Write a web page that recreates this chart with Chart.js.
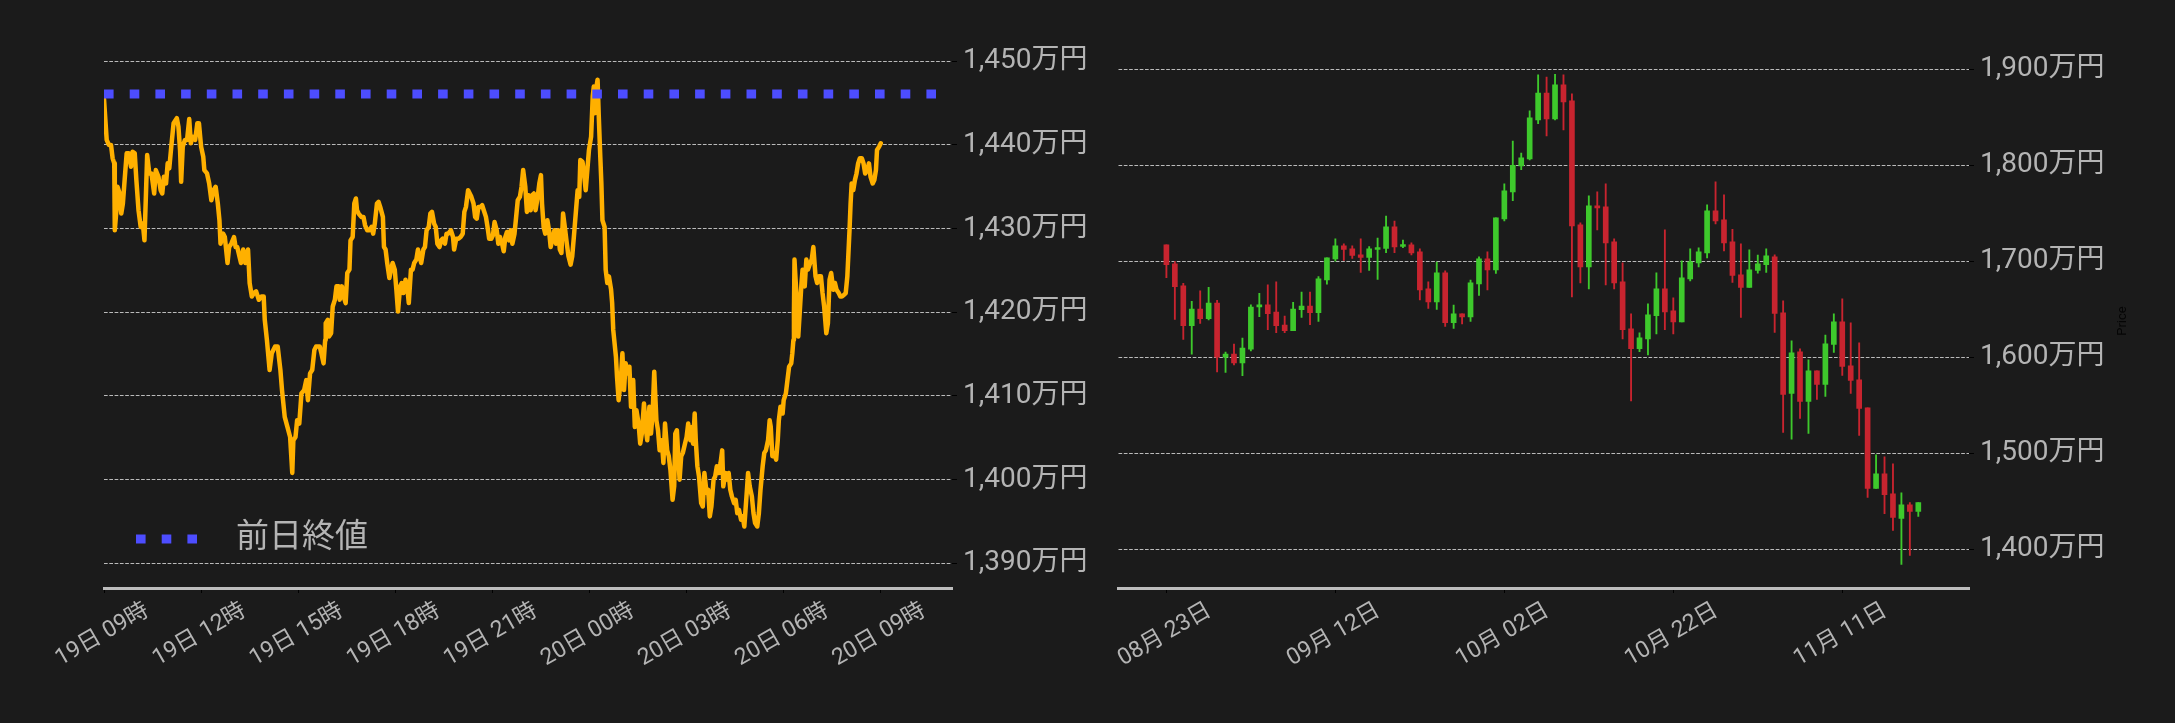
<!DOCTYPE html>
<html>
<head>
<meta charset="utf-8">
<script src="https://cdn.jsdelivr.net/npm/chart.js@4.4.1/dist/chart.umd.min.js"></script>
<style>
  html, body { margin: 0; padding: 0; background: #1b1b1b; }
  #wrap { position: relative; width: 2175px; height: 723px; background: #1b1b1b; overflow: hidden; }
  .box { position: absolute; top: 0; height: 723px; }
  #boxL { left: 0; width: 1100px; }
  #boxR { left: 1100px; width: 1075px; }
</style>
</head>
<body>
<div id="wrap">
  <div class="box" id="boxL"><canvas id="cLine" width="1100" height="723"></canvas></div>
  <div class="box" id="boxR"><canvas id="cCandle" width="1075" height="723"></canvas></div>
</div>
<script>
// --- Datos: precio intradía (minutos desde 19日 09時, 万円) ---
const lineMinutes = [
  0,5,9,13,16,19,20,23,25,29,32,35,38,42,46,50,53,57,60,64,68,72,75,78,80,84,88,93,96,101,
  105,108,111,115,118,121,125,129,135,138,141,143,146,150,154,158,161,164,169,173,176,180,184,186,191,195,199,203,207,211,
  214,216,221,224,229,232,236,241,244,247,251,254,258,262,267,270,274,278,282,287,292,296,298,302,307,311,317,322,327,330,
  335,340,345,349,351,355,358,362,366,371,375,378,382,386,390,393,400,403,407,410,411,415,417,421,424,428,431,435,437,441,
  444,448,451,455,457,461,464,467,469,472,477,481,484,488,492,496,499,502,506,509,512,517,519,522,525,529,532,535,539,542,
  545,549,552,555,559,562,565,569,572,575,579,582,585,588,592,595,598,602,605,608,612,615,618,622,625,628,632,635,638,643,
  647,649,653,657,661,665,668,671,675,678,681,685,688,691,694,698,701,704,708,711,714,718,721,724,728,731,734,738,741,744,
  747,751,754,757,761,764,767,771,774,777,781,784,787,791,794,797,800,804,807,810,
  812,815,818,822,825,828,832,835,838,842,845,848,851,855,858,861,865,868,871,875,878,881,883,887,889,893,896,899,903,906,
  908,910,913,915,917,920,922,924,928,930,933,936,940,942,944,
  949,951,954,958,961,964,967,971,974,977,981,984,987,991,994,997,1001,1004,1007,1011,1014,1017,1020,1024,1027,1030,1034,1037,1040,1044,
  1047,1050,1054,1057,1059,1062,1064,1067,1070,1073,1077,1080,1083,1087,1090,1092,1095,1097,1100,1103,1107,1110,1113,1117,1120,1123,
  1126,1130,1133,1136,1140,1143,1146,1148,1152,1154,1158,1161,1164,1168,1171,1174,1177,1181,1184,1187,1191,1194,1197,1201,1204,1207,1211,1214,1217,1221,
  1224,1227,1231,1234,1236,1239,1242,1246,1249,1251,1254,1258,1260,1264,1267,1270,1274,1276,1278,
  1279,1280,1282,1284,1287,1290,1293,1295,1299,1302,1305,1309,1312,1315,1319,1322,1325,1329,1332,1335,1339,1342,1345,1348,1352,1355,1358,1362,1365,1368,
  1372,1375,1378,1382,1384,1386,1389,1392,1395,1398,1401,1405,1408,1411,1415,1418,1421,1425,1428,1431,1433,1437,1440
];
const linePrices = [
  1445.5,1440.6,1440.0,1440.0,1438.4,1437.8,1429.8,1432.2,1435.0,1434.2,1431.8,1433.0,1435.6,1439.0,1439.0,1437.4,1439.2,1439.0,1435.8,1432.2,1430.2,1430.6,1428.6,1434.6,1438.8,1436.6,1436.6,1434.2,1437.0,1436.2,
  1434.6,1434.2,1436.2,1435.4,1437.8,1437.2,1440.0,1442.6,1443.2,1442.2,1439.4,1435.6,1439.8,1440.6,1440.6,1443.1,1440.2,1441.0,1440.6,1442.6,1442.6,1439.8,1438.6,1437.0,1436.6,1435.4,1433.4,1434.6,1435.0,1433.0,
  1431.0,1428.2,1429.4,1429.0,1425.9,1427.8,1428.2,1429.0,1427.8,1427.8,1426.7,1425.9,1427.5,1425.9,1427.5,1423.5,1421.9,1422.3,1422.5,1421.5,1421.9,1421.9,1419.1,1416.7,1413.1,1415.1,1415.9,1415.9,1413.1,1410.7,
  1407.5,1406.3,1405.1,1400.8,1404.7,1405.1,1407.1,1406.7,1410.3,1410.7,1411.9,1409.5,1412.7,1413.1,1415.5,1415.9,1415.9,1415.1,1413.9,1416.7,1418.7,1419.1,1417.1,1417.5,1420.7,1421.5,1423.1,1423.1,1421.5,1423.1,
  1421.9,1421.1,1424.7,1425.1,1428.6,1429.0,1433.0,1433.6,1432.2,1431.8,1431.4,1431.4,1430.4,1429.8,1429.8,1430.2,1429.4,1430.6,1433.0,1433.2,1432.6,1431.4,1427.8,1427.5,1425.9,1424.1,1425.1,1425.9,1425.1,1422.7,
  1420.1,1423.1,1423.5,1422.3,1423.9,1423.1,1421.1,1425.1,1425.1,1425.9,1426.3,1427.5,1426.7,1425.9,1427.5,1427.8,1429.8,1430.2,1431.8,1432.0,1430.6,1430.2,1428.2,1427.8,1428.6,1428.8,1428.2,1429.4,1429.4,1429.8,
  1429.0,1427.5,1428.8,1428.8,1429.0,1429.4,1432.0,1432.6,1434.6,1434.2,1433.8,1433.0,1431.4,1431.2,1432.6,1432.6,1432.8,1432.2,1431.4,1430.2,1428.8,1428.8,1429.2,1430.8,1429.8,1428.2,1429.0,1428.2,1427.3,1429.0,
  1429.6,1428.6,1429.8,1428.2,1429.4,1431.4,1433.4,1433.8,1435.0,1437.0,1435.0,1432.0,1434.0,1432.2,1434.0,1434.2,1432.2,1433.8,1435.4,1436.4,
  1433.0,1430.2,1429.4,1431.0,1429.8,1427.8,1429.0,1429.8,1428.2,1429.8,1427.5,1427.1,1431.8,1429.8,1428.2,1426.7,1425.7,1426.7,1429.0,1432.2,1434.6,1433.8,1438.2,1438.0,1437.0,1434.6,1437.0,1439.4,1441.0,1445.8,
  1447.0,1443.8,1447.0,1447.8,1443.8,1438.6,1435.4,1431.0,1430.2,1425.1,1423.5,1424.3,1422.7,1421.1,1417.9,
  1414.7,1412.3,1409.5,1411.9,1415.1,1410.7,1413.9,1412.7,1413.5,1408.7,1411.9,1406.3,1408.3,1406.7,1404.3,1405.5,1409.1,1406.3,1404.7,1408.7,1405.5,1407.9,1412.9,1407.1,1405.9,1403.5,1404.7,1402.0,1406.7,1403.5,
  1402.8,1401.2,1397.6,1399.2,1405.5,1405.9,1403.5,1400.0,1402.8,1403.2,1404.3,1405.1,1406.7,1404.7,1406.3,1404.3,1407.9,1404.7,1401.6,1400.4,1397.2,1396.8,1400.8,1398.4,1398.8,1395.6,
  1396.8,1400.0,1400.4,1401.6,1400.8,1402.0,1403.5,1399.2,1400.8,1400.0,1400.8,1398.8,1398.0,1397.2,1397.6,1396.0,1396.4,1395.2,1395.6,1394.4,1398.0,1400.8,1399.2,1398.0,1396.0,1394.8,1394.4,1396.0,1398.8,1401.6,
  1403.2,1403.5,1404.7,1407.1,1406.3,1402.8,1403.2,1402.4,1404.7,1407.1,1408.7,1407.9,1409.5,1410.3,1411.9,1413.5,1413.9,1415.1,1416.7,
  1419.9,1426.3,1423.9,1421.9,1417.1,1420.3,1423.5,1425.1,1423.1,1426.3,1425.1,1425.9,1426.3,1427.8,1424.3,1423.5,1424.3,1424.3,1422.3,1420.7,1417.5,1418.7,1423.9,1424.7,1422.7,1423.5,1422.7,1422.3,1421.9,1421.9,
  1422.1,1422.3,1424.3,1429.8,1433.0,1435.4,1434.6,1435.8,1436.6,1437.8,1438.4,1438.4,1437.8,1436.6,1437.0,1437.8,1436.2,1435.4,1435.8,1437.0,1439.4,1439.8,1440.2
];
const prevClose = 1446.1;
const prevCloseLabel = '前日終値';

const leftXTicks = [0, 180, 360, 540, 720, 900, 1080, 1260, 1440];
const leftXLabels = ['19日 09時', '19日 12時', '19日 15時', '19日 18時', '19日 21時', '20日 00時', '20日 03時', '20日 06時', '20日 09時'];
const leftYTicks = [1390, 1400, 1410, 1420, 1430, 1440, 1450];

// --- Datos: velas diarias (índice 0 = 08月23日) ---
const candleOpen = [
  1717.1,1697.2,1674.2,1632.8,1650.2,1640.1,1656.4,1600.0,1603.1,1594.1,1608.4,1652.3,1654.4,1647.0,1633.4,1627.5,1649.5,1653.3,1646.3,1680.5,
  1702.4,1716.0,1712.8,1706.6,1703.8,1712.2,1713.2,1735.8,1715.3,1717.0,1709.7,1671.2,1657.6,1687.8,1635.8,1645.1,1642.0,1676.4,1702.4,1691.0,
  1744.1,1772.2,1799.3,1806.6,1847.2,1875.3,1848.3,1883.7,1867.0,1737.8,1694.1,1757.6,1756.6,1720.1,1678.5,1629.5,1608.7,1619.1,1643.1,1671.2,
  1648.3,1636.8,1681.6,1698.3,1708.7,1752.4,1743.1,1720.1,1685.8,1672.6,1690.3,1696.5,1704.5,1646.2,1562.2,1605.6,1553.8,1585.8,1571.5,1613.2,
  1636.8,1591.0,1576.4,1547.2,1463.2,1478.5,1457.6,1431.9,1446.2,1439.2
];
const candleHigh = [
  1717.1,1699.7,1677.0,1658.2,1669.0,1672.8,1659.2,1605.2,1613.6,1619.9,1654.4,1666.6,1675.3,1678.4,1642.9,1657.1,1667.9,1667.9,1684.0,1703.5,
  1723.3,1718.1,1716.0,1723.3,1715.3,1724.0,1746.9,1741.7,1721.9,1719.1,1712.8,1678.5,1699.0,1689.9,1654.2,1645.1,1680.2,1704.5,1709.7,1745.1,
  1780.6,1825.3,1812.8,1856.6,1894.1,1892.0,1894.8,1894.1,1874.3,1739.9,1768.1,1772.2,1780.6,1723.3,1698.3,1645.1,1625.3,1655.6,1687.8,1732.6,
  1661.8,1700.3,1712.8,1713.9,1758.7,1782.6,1769.1,1733.3,1718.1,1711.8,1706.3,1712.8,1706.6,1658.7,1617.0,1608.7,1597.2,1585.8,1622.9,1645.1,
  1660.8,1635.8,1614.9,1547.2,1498.3,1496.2,1488.9,1458.7,1448.3,1448.3
];
const candleLow = [
  1682.9,1639.4,1618.5,1603.1,1635.2,1638.7,1584.7,1584.0,1592.0,1580.8,1606.6,1642.2,1628.6,1625.4,1625.4,1627.5,1641.5,1633.8,1637.3,1676.0,
  1700.0,1700.7,1702.8,1688.2,1690.3,1680.9,1709.0,1709.0,1714.2,1706.6,1659.7,1650.7,1649.7,1631.9,1629.9,1634.7,1637.2,1664.2,1670.1,1687.2,
  1742.0,1763.2,1795.5,1805.6,1843.4,1830.6,1847.2,1836.8,1662.8,1677.4,1671.2,1732.6,1675.3,1671.2,1619.1,1554.5,1605.6,1602.4,1624.3,1628.5,
  1624.3,1636.8,1679.5,1694.1,1703.5,1738.9,1710.8,1677.8,1641.3,1672.6,1687.5,1688.2,1625.7,1521.5,1514.6,1536.1,1520.5,1555.9,1559.0,1604.9,
  1580.9,1562.2,1518.4,1453.8,1463.2,1436.8,1419.4,1384.0,1393.4,1434.0
];
const candleClose = [
  1696.5,1673.5,1632.8,1650.2,1640.1,1656.4,1600.0,1603.1,1594.1,1609.4,1652.3,1654.4,1645.3,1632.8,1627.5,1650.2,1653.3,1646.3,1681.5,1703.5,
  1716.0,1712.2,1705.9,1703.8,1712.8,1713.9,1735.8,1714.9,1717.0,1708.7,1670.1,1657.6,1687.8,1635.8,1645.1,1642.0,1677.4,1702.4,1691.0,1745.1,
  1773.3,1800.0,1807.6,1849.3,1875.3,1848.3,1883.7,1866.0,1736.8,1694.1,1757.6,1755.6,1719.1,1677.4,1628.5,1608.7,1620.1,1644.1,1671.2,1647.2,
  1636.8,1682.6,1699.3,1709.7,1752.4,1742.0,1719.1,1685.1,1672.6,1691.0,1697.2,1705.6,1645.5,1561.1,1604.5,1553.8,1585.8,1571.5,1613.9,1636.8,
  1590.3,1575.7,1546.5,1463.2,1478.5,1456.6,1433.0,1446.2,1439.2,1448.3
];
const rightXTicks = [0, 20, 40, 60, 80];
const rightXLabels = ['08月 23日', '09月 12日', '10月 02日', '10月 22日', '11月 11日'];
const rightYTicks = [1400, 1500, 1600, 1700, 1800, 1900];

// --- Estilo ---
const FONT = "Roboto, 'Noto Sans CJK JP', sans-serif";
const TEXT = '#b4b4b4';
const GRID = 'rgba(215,215,215,0.85)';
const AXIS = '#bdbdbd';
const ORANGE = '#ffb000';
const BLUE = '#4d4dff';
const GREEN = '#3ec92c';
const RED = '#c8242f';

Chart.defaults.font.family = FONT;
Chart.defaults.color = TEXT;

const yen = (v) => v.toLocaleString('en-US') + '万円';

// etiquetas del eje X giradas 30°, centradas en cada marca
function xLabelPlugin(labels) {
    return {
        id: 'xLabels',
        afterDraw(chart) {
            const ctx = chart.ctx;
            const xs = chart.scales.x;
            ctx.save();
            ctx.fillStyle = TEXT;
            ctx.font = '23px ' + FONT;
            ctx.textAlign = 'center';
            ctx.textBaseline = 'middle';
            xs.ticks.forEach((t, i) => {
                const px = xs.getPixelForValue(t.value);
                ctx.save();
                ctx.translate(px - 1.5, chart.chartArea.bottom + 47);
                ctx.rotate(-Math.PI / 6);
                ctx.fillText(labels[i], 0, 0);
                ctx.restore();
            });
            ctx.restore();
        }
    };
}

// leyenda dentro del área (abajo a la izquierda)
const legendPlugin = {
    id: 'prevLegend',
    afterDraw(chart) {
        const ctx = chart.ctx;
        const a = chart.chartArea;
        const y = a.bottom - 49;
        ctx.save();
        ctx.strokeStyle = BLUE;
        ctx.lineWidth = 9;
        ctx.setLineDash([9.6, 16.1]);
        ctx.beginPath();
        ctx.moveTo(a.left + 32, y);
        ctx.lineTo(a.left + 94, y);
        ctx.stroke();
        ctx.setLineDash([]);
        ctx.fillStyle = TEXT;
        ctx.font = '33px ' + FONT;
        ctx.textAlign = 'left';
        ctx.textBaseline = 'middle';
        ctx.fillText(prevCloseLabel, a.left + 132, y);
        ctx.restore();
    }
};

// título "Price" del eje derecho
const priceTitlePlugin = {
    id: 'priceTitle',
    afterDraw(chart) {
        const ctx = chart.ctx;
        const a = chart.chartArea;
        ctx.save();
        ctx.fillStyle = '#050505';
        ctx.font = '13px ' + FONT;
        ctx.textAlign = 'center';
        ctx.textBaseline = 'middle';
        ctx.translate(a.right + 154, (a.top + a.bottom) / 2 + 2);
        ctx.rotate(-Math.PI / 2);
        ctx.fillText('Price', 0, 0);
        ctx.restore();
    }
};

function yAxis(ticks, min, max, width) {
    return {
        position: 'right',
        min: min,
        max: max,
        afterBuildTicks: (s) => { s.ticks = ticks.map(v => ({ value: v })); },
        afterFit: (s) => { s.width = width; s.paddingTop = 0; s.paddingBottom = 0; },
        grid: { color: GRID, lineWidth: 1, drawTicks: true, tickLength: 5, tickColor: '#000' },
        border: { display: false, dash: [3.7, 1.6] },
        ticks: { color: TEXT, padding: 6, font: { size: 28 }, callback: yen }
    };
}

function xAxis(ticks, min, max) {
    return {
        type: 'linear',
        min: min,
        max: max,
        offset: false,
        afterBuildTicks: (s) => { s.ticks = ticks.map(v => ({ value: v })); },
        afterFit: (s) => { s.height = 135; },
        grid: { display: true, offset: false, drawOnChartArea: false, drawTicks: true, tickLength: 5, tickColor: '#000', color: '#000' },
        border: { display: true, color: AXIS, width: 3 },
        ticks: { display: false }
    };
}

// 1. GRÁFICO DE LÍNEA (intradía)
new Chart(document.getElementById('cLine'), {
    type: 'line',
    data: {
        datasets: [
            {
                label: prevCloseLabel,
                data: [{ x: 0, y: prevClose }, { x: 1572, y: prevClose }],
                borderColor: BLUE,
                borderWidth: 9,
                borderDash: [9.6, 16.1],
                borderCapStyle: 'butt',
                pointRadius: 0
            },
            {
                label: 'price',
                data: lineMinutes.map((m, i) => ({ x: m, y: linePrices[i] })),
                borderColor: ORANGE,
                borderWidth: 4.5,
                borderJoinStyle: 'round',
                borderCapStyle: 'round',
                pointRadius: 0,
                tension: 0
            }
        ]
    },
    options: {
        responsive: false,
        animation: false,
        events: [],
        layout: { padding: { left: 104, top: 50, right: 0, bottom: 0 } },
        scales: {
            x: xAxis(leftXTicks, 0, 1572),
            y: yAxis(leftYTicks, 1387.05, 1451.35, 148)
        },
        plugins: { legend: { display: false }, tooltip: { enabled: false } }
    },
    plugins: [xLabelPlugin(leftXLabels), legendPlugin]
});

// 2. GRÁFICO DE VELAS
const idx = candleOpen.map((_, i) => i);
const colorOf = (i) => candleClose[i] >= candleOpen[i] ? GREEN : RED;

new Chart(document.getElementById('cCandle'), {
    type: 'bar',
    data: {
        datasets: [
            {
                label: 'body',
                data: idx.map(i => ({ x: i, y: [Math.min(candleOpen[i], candleClose[i]), Math.max(candleOpen[i], candleClose[i])] })),
                backgroundColor: idx.map(colorOf),
                barThickness: 5,
                minBarLength: 2,
                grouped: false,
                borderWidth: 0
            },
            {
                label: 'wick',
                data: idx.map(i => ({ x: i, y: [candleLow[i], candleHigh[i]] })),
                backgroundColor: idx.map(colorOf),
                barThickness: 1.2,
                grouped: false,
                borderWidth: 0
            }
        ]
    },
    options: {
        responsive: false,
        animation: false,
        events: [],
        layout: { padding: { left: 18.5, top: 50, right: 0, bottom: 0 } },
        scales: {
            x: xAxis(rightXTicks, -5.67, 95),
            y: Object.assign(yAxis(rightYTicks, 1359.4, 1920.1, 206), { beginAtZero: false })
        },
        plugins: { legend: { display: false }, tooltip: { enabled: false } }
    },
    plugins: [xLabelPlugin(rightXLabels), priceTitlePlugin]
});
</script>
</body>
</html>
